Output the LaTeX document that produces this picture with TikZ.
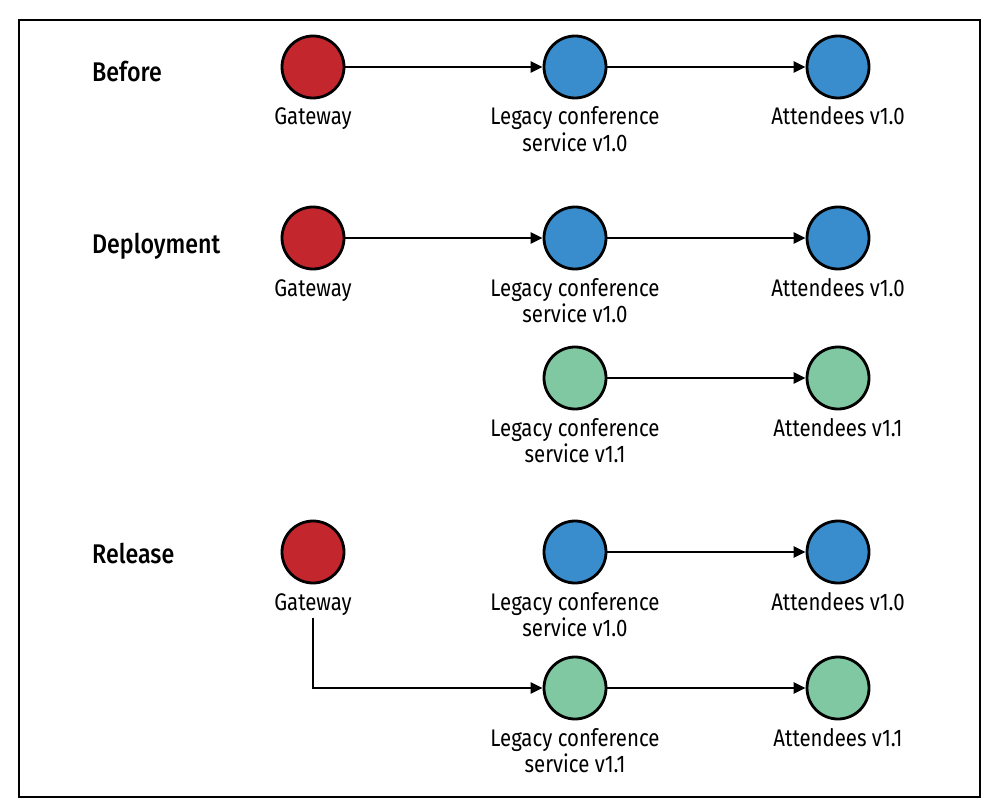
\documentclass[tikz,border=0pt]{standalone}
\usepackage{fontspec}
\setmainfont{Fira Sans}[FakeStretch=0.85]
\newfontfamily\headfont{Fira Sans Medium}[FakeStretch=0.86]
\usetikzlibrary{arrows.meta}
\definecolor{gwred}{HTML}{C4262E}
\definecolor{oldblue}{HTML}{3A8DCD}
\definecolor{newgreen}{HTML}{80C8A2}
\tikzset{
  svc/.style={circle, draw=black, line width=2.8pt, minimum size=62pt, inner sep=0pt},
  gw/.style={svc, fill=gwred},
  old/.style={svc, fill=oldblue},
  new/.style={svc, fill=newgreen},
  lab/.style={anchor=base, inner sep=0pt, font=\fontsize{24}{25}\selectfont},
  head/.style={anchor=base west, inner sep=0pt, font=\headfont\fontsize{27}{29}\selectfont},
  arr/.style={line width=2.3pt, -{Triangle[length=12pt,width=11pt]}},
}
\newcommand{\twolines}[2]{\begin{tabular}[t]{@{}c@{}}#1\\#2\end{tabular}}
\begin{document}
\begin{tikzpicture}[x=1pt,y=-1pt]
\useasboundingbox (0,0) rectangle (992,810);
\draw[line width=1.5pt] (19,20) rectangle (980,797);

% Before
\node[head] (hb) at (92,82) {Before};
\node[gw] (g1) at (313,67) {};
\node[old] (l1) at (575,67) {};
\node[old] (a1) at (838,67) {};
\node[lab] (tg1) at (313,125) {Gateway};
\node[lab] (tl1) at (575,125) {\twolines{Legacy conference}{service v1.0}};
\node[lab] (ta1) at (838,125) {Attendees v1.0};
\draw[arr] (g1) -- (l1);
\draw[arr] (l1) -- (a1);

% Deployment
\node[head] (hd) at (92,253) {Deployment};
\node[gw] (g2) at (313,238) {};
\node[old] (l2) at (575,238) {};
\node[old] (a2) at (838,238) {};
\node[lab] (tg2) at (313,296) {Gateway};
\node[lab] (tl2) at (575,296) {\twolines{Legacy conference}{service v1.0}};
\node[lab] (ta2) at (838,296) {Attendees v1.0};
\draw[arr] (g2) -- (l2);
\draw[arr] (l2) -- (a2);
\node[new] (l2n) at (575,378) {};
\node[new] (a2n) at (838,378) {};
\node[lab] (tl2n) at (575,436) {\twolines{Legacy conference}{service v1.1}};
\node[lab] (ta2n) at (838,436) {Attendees v1.1};
\draw[arr] (l2n) -- (a2n);

% Release
\node[head] (hr) at (92,563) {Release};
\node[gw] (g3) at (313,552) {};
\node[old] (l3) at (575,552) {};
\node[old] (a3) at (838,552) {};
\node[lab] (tg3) at (313,610) {Gateway};
\node[lab] (tl3) at (575,610) {\twolines{Legacy conference}{service v1.0}};
\node[lab] (ta3) at (838,610) {Attendees v1.0};
\draw[arr] (l3) -- (a3);
\node[new] (l3n) at (575,688) {};
\node[new] (a3n) at (838,688) {};
\node[lab] (tl3n) at (575,746) {\twolines{Legacy conference}{service v1.1}};
\node[lab] (ta3n) at (838,746) {Attendees v1.1};
\draw[arr] (l3n) -- (a3n);
\coordinate (gs) at (313,618);
\draw[arr] (gs) |- (l3n);
\end{tikzpicture}
\end{document}
